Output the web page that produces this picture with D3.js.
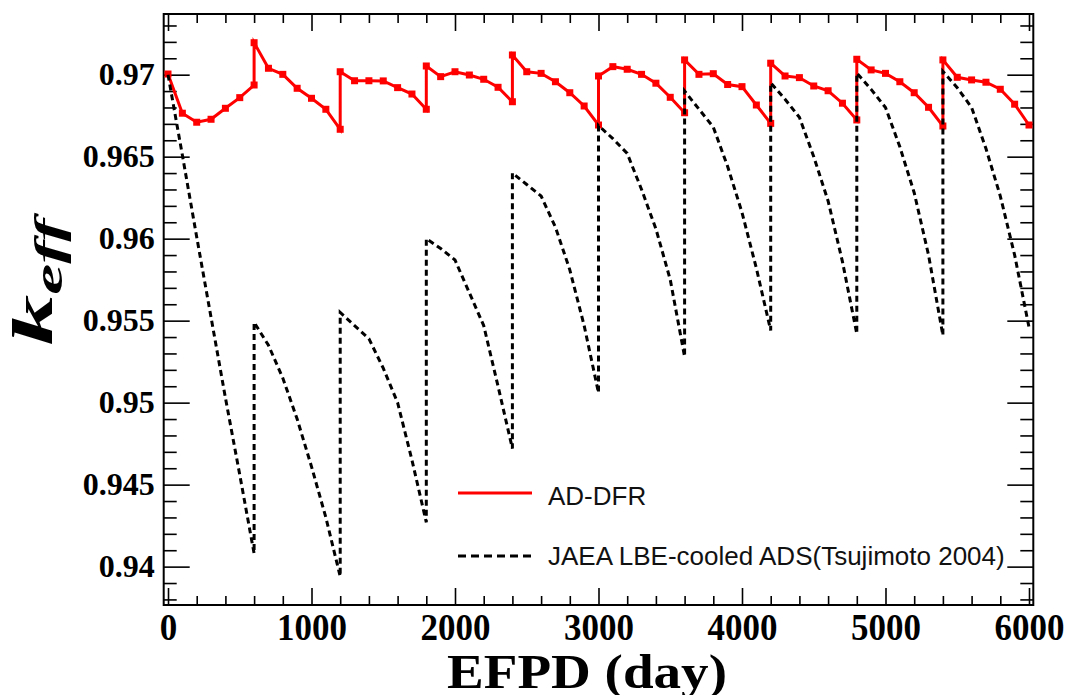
<!DOCTYPE html>
<html>
<head>
<meta charset="utf-8">
<script src="https://cdn.jsdelivr.net/npm/d3@7"></script>
<style>
    body { margin: 0; background: #fff; }
    .tick text { font-family: "Liberation Serif", "Times New Roman", serif; font-weight: bold; }
</style>
</head>
<body>
<div id="chart-area"></div>
<script>
// AD-DFR (red, markers) - jump points appear twice at the same day
var redDays = [0,100,200,300,400,500,600, 600,700,800,900,1000,1100,1200,
    1200,1300,1400,1500,1600,1700,1800, 1800,1900,2000,2100,2200,2300,2400,
    2400,2500,2600,2700,2800,2900,3000, 3000,3100,3200,3300,3400,3500,3600,
    3600,3700,3800,3900,4000,4100,4200, 4200,4300,4400,4500,4600,4700,4800,
    4800,4900,5000,5100,5200,5300,5400, 5400,5500,5600,5700,5800,5900,6000];
var redK = [0.97004,0.96765,0.96710,0.96728,0.96795,0.96860,0.96937,
    0.97195,0.97039,0.97002,0.96917,0.96856,0.96789,0.96667,
    0.97018,0.96963,0.96963,0.96962,0.96921,0.96882,0.96789,
    0.97053,0.96988,0.97018,0.96998,0.96972,0.96923,0.96835,
    0.97120,0.97018,0.97008,0.96957,0.96890,0.96809,0.96693,
    0.96992,0.97049,0.97033,0.97002,0.96948,0.96862,0.96768,
    0.97090,0.97002,0.97006,0.96940,0.96927,0.96815,0.96703,
    0.97070,0.96992,0.96982,0.96931,0.96902,0.96826,0.96724,
    0.97094,0.97029,0.97008,0.96957,0.96890,0.96801,0.96687,
    0.97090,0.96984,0.96968,0.96954,0.96911,0.96820,0.96693];

// JAEA LBE-cooled ADS (black dashed)
var jaeaDays = redDays;
var jaeaK = [0.9700,0.9651,0.9601,0.9552,0.9503,0.9456,0.9408,
    0.9549,0.9535,0.9515,0.9490,0.9461,0.9430,0.9394,
    0.9555,0.9547,0.9539,0.9521,0.9500,0.9465,0.9427,
    0.9600,0.9594,0.9587,0.9567,0.9547,0.9510,0.9472,
    0.9640,0.9633,0.9626,0.9607,0.9581,0.9547,0.9506,
    0.9669,0.9661,0.9652,0.9630,0.9606,0.9575,0.9528,
    0.9690,0.9679,0.9668,0.9644,0.9616,0.9582,0.9544,
    0.9695,0.9685,0.9674,0.9650,0.9623,0.9586,0.9542,
    0.9701,0.9691,0.9680,0.9656,0.9628,0.9590,0.9541,
    0.9702,0.9692,0.9680,0.9655,0.9626,0.9590,0.9546];

var xTicks = [0,1000,2000,3000,4000,5000,6000];
var yTicks = [0.94,0.945,0.95,0.955,0.96,0.965,0.97];
var yTickLabels = ["0.94","0.945","0.95","0.955","0.96","0.965","0.97"];
var legendLabels = ["AD-DFR", "JAEA LBE-cooled ADS(Tsujimoto 2004)"];

var W = 1065, H = 695;
var pLeft = 163.7, pRight = 1033.3, pTop = 14, pBottom = 605;

var svg = d3.select("#chart-area").append("svg")
    .attr("width", W)
    .attr("height", H);

var x = d3.scaleLinear()
    .domain([-30, 6030])
    .range([pLeft, pRight]);

var y = d3.scaleLinear()
    .domain([0.93766, 0.97370])
    .range([pBottom, pTop]);

// minor ticks
var xMinor = d3.range(0, 6001, 200).filter((d) => d % 1000 != 0);
var yMinor = d3.range(938, 974).map((d) => d / 1000).filter((d) => Math.round(d * 1000) % 5 != 0);

function styleAxis(g) {
    g.select(".domain").remove();
    g.selectAll(".tick line").attr("stroke", "#000").attr("stroke-width", 1.6);
}

// bottom
svg.append("g")
    .attr("transform", "translate(0," + pBottom + ")")
    .call(d3.axisBottom(x).tickValues(xMinor).tickSize(-9).tickFormat(""))
    .call(styleAxis);
svg.append("g")
    .attr("transform", "translate(0," + pBottom + ")")
    .call(d3.axisBottom(x).tickValues(xTicks).tickSize(-17).tickPadding(7).tickFormat(d3.format("d")))
    .call(styleAxis)
    .selectAll("text").attr("font-size", 35).attr("fill", "#000")
        .attr("transform", "scale(1,1.1)");
// top
svg.append("g")
    .attr("transform", "translate(0," + pTop + ")")
    .call(d3.axisTop(x).tickValues(xMinor).tickSize(-9).tickFormat(""))
    .call(styleAxis);
svg.append("g")
    .attr("transform", "translate(0," + pTop + ")")
    .call(d3.axisTop(x).tickValues(xTicks).tickSize(-17).tickFormat(""))
    .call(styleAxis);
// left
svg.append("g")
    .attr("transform", "translate(" + pLeft + ",0)")
    .call(d3.axisLeft(y).tickValues(yMinor).tickSize(-13).tickFormat(""))
    .call(styleAxis);
svg.append("g")
    .attr("transform", "translate(" + pLeft + ",0)")
    .call(d3.axisLeft(y).tickValues(yTicks).tickSize(-26).tickPadding(9)
        .tickFormat((d, i) => yTickLabels[i]))
    .call(styleAxis)
    .selectAll("text").attr("font-size", 32).attr("fill", "#000");
// right
svg.append("g")
    .attr("transform", "translate(" + pRight + ",0)")
    .call(d3.axisRight(y).tickValues(yMinor).tickSize(-13).tickFormat(""))
    .call(styleAxis);
svg.append("g")
    .attr("transform", "translate(" + pRight + ",0)")
    .call(d3.axisRight(y).tickValues(yTicks).tickSize(-26).tickFormat(""))
    .call(styleAxis);

// frame
svg.append("rect")
    .attr("x", pLeft).attr("y", pTop)
    .attr("width", pRight - pLeft).attr("height", pBottom - pTop)
    .attr("fill", "none").attr("stroke", "#000").attr("stroke-width", 2);

var redData = redDays.map((d, i) => [d, redK[i]]);
var jaeaData = jaeaDays.map((d, i) => [d, jaeaK[i]]);

var line = d3.line()
    .x((d) => x(d[0]))
    .y((d) => y(d[1]));

svg.append("path")
    .datum(redData)
    .attr("d", line)
    .attr("fill", "none")
    .attr("stroke", "#ff0000")
    .attr("stroke-width", 3);

svg.selectAll("rect.marker").data(redData).enter()
    .append("rect")
        .attr("class", "marker")
        .attr("x", (d) => x(d[0]) - 3.5)
        .attr("y", (d) => y(d[1]) - 3.5)
        .attr("width", 7)
        .attr("height", 7)
        .attr("fill", "#ff0000");

svg.append("path")
    .datum(jaeaData)
    .attr("d", line)
    .attr("fill", "none")
    .attr("stroke", "#000")
    .attr("stroke-width", 3)
    .attr("stroke-dasharray", "6,4");

// legend
var legend = svg.append("g");
legend.append("line")
    .attr("x1", 458).attr("x2", 532).attr("y1", 493).attr("y2", 493)
    .attr("stroke", "#ff0000").attr("stroke-width", 3);
legend.append("line")
    .attr("x1", 458).attr("x2", 532).attr("y1", 556).attr("y2", 556)
    .attr("stroke", "#000").attr("stroke-width", 3).attr("stroke-dasharray", "8,5");
legend.selectAll("text").data(legendLabels).enter()
    .append("text")
        .attr("x", 548)
        .attr("y", (d, i) => i == 0 ? 505 : 565)
        .attr("font-family", "'Liberation Sans', Arial, sans-serif")
        .attr("font-size", 26)
        .attr("fill", "#111")
        .text((d) => d);

// axis titles
svg.append("text")
    .attr("x", 587)
    .attr("y", 688)
    .attr("text-anchor", "middle")
    .attr("font-family", "'Liberation Serif', 'Times New Roman', serif")
    .attr("font-weight", "bold")
    .attr("font-size", 48)
    .attr("textLength", 280)
    .attr("lengthAdjust", "spacingAndGlyphs")
    .text("EFPD (day)");

var yTitle = svg.append("text")
    .attr("transform", "translate(52,282) rotate(-90) scale(1.75,1)")
    .attr("text-anchor", "middle")
    .attr("font-family", "'Liberation Serif', 'Times New Roman', serif")
    .attr("font-weight", "bold")
    .attr("font-style", "italic")
    .attr("font-size", 58);
yTitle.append("tspan").text("k");
yTitle.append("tspan").attr("font-size", 40).attr("dy", 10).text("eff");
</script>
</body>
</html>
